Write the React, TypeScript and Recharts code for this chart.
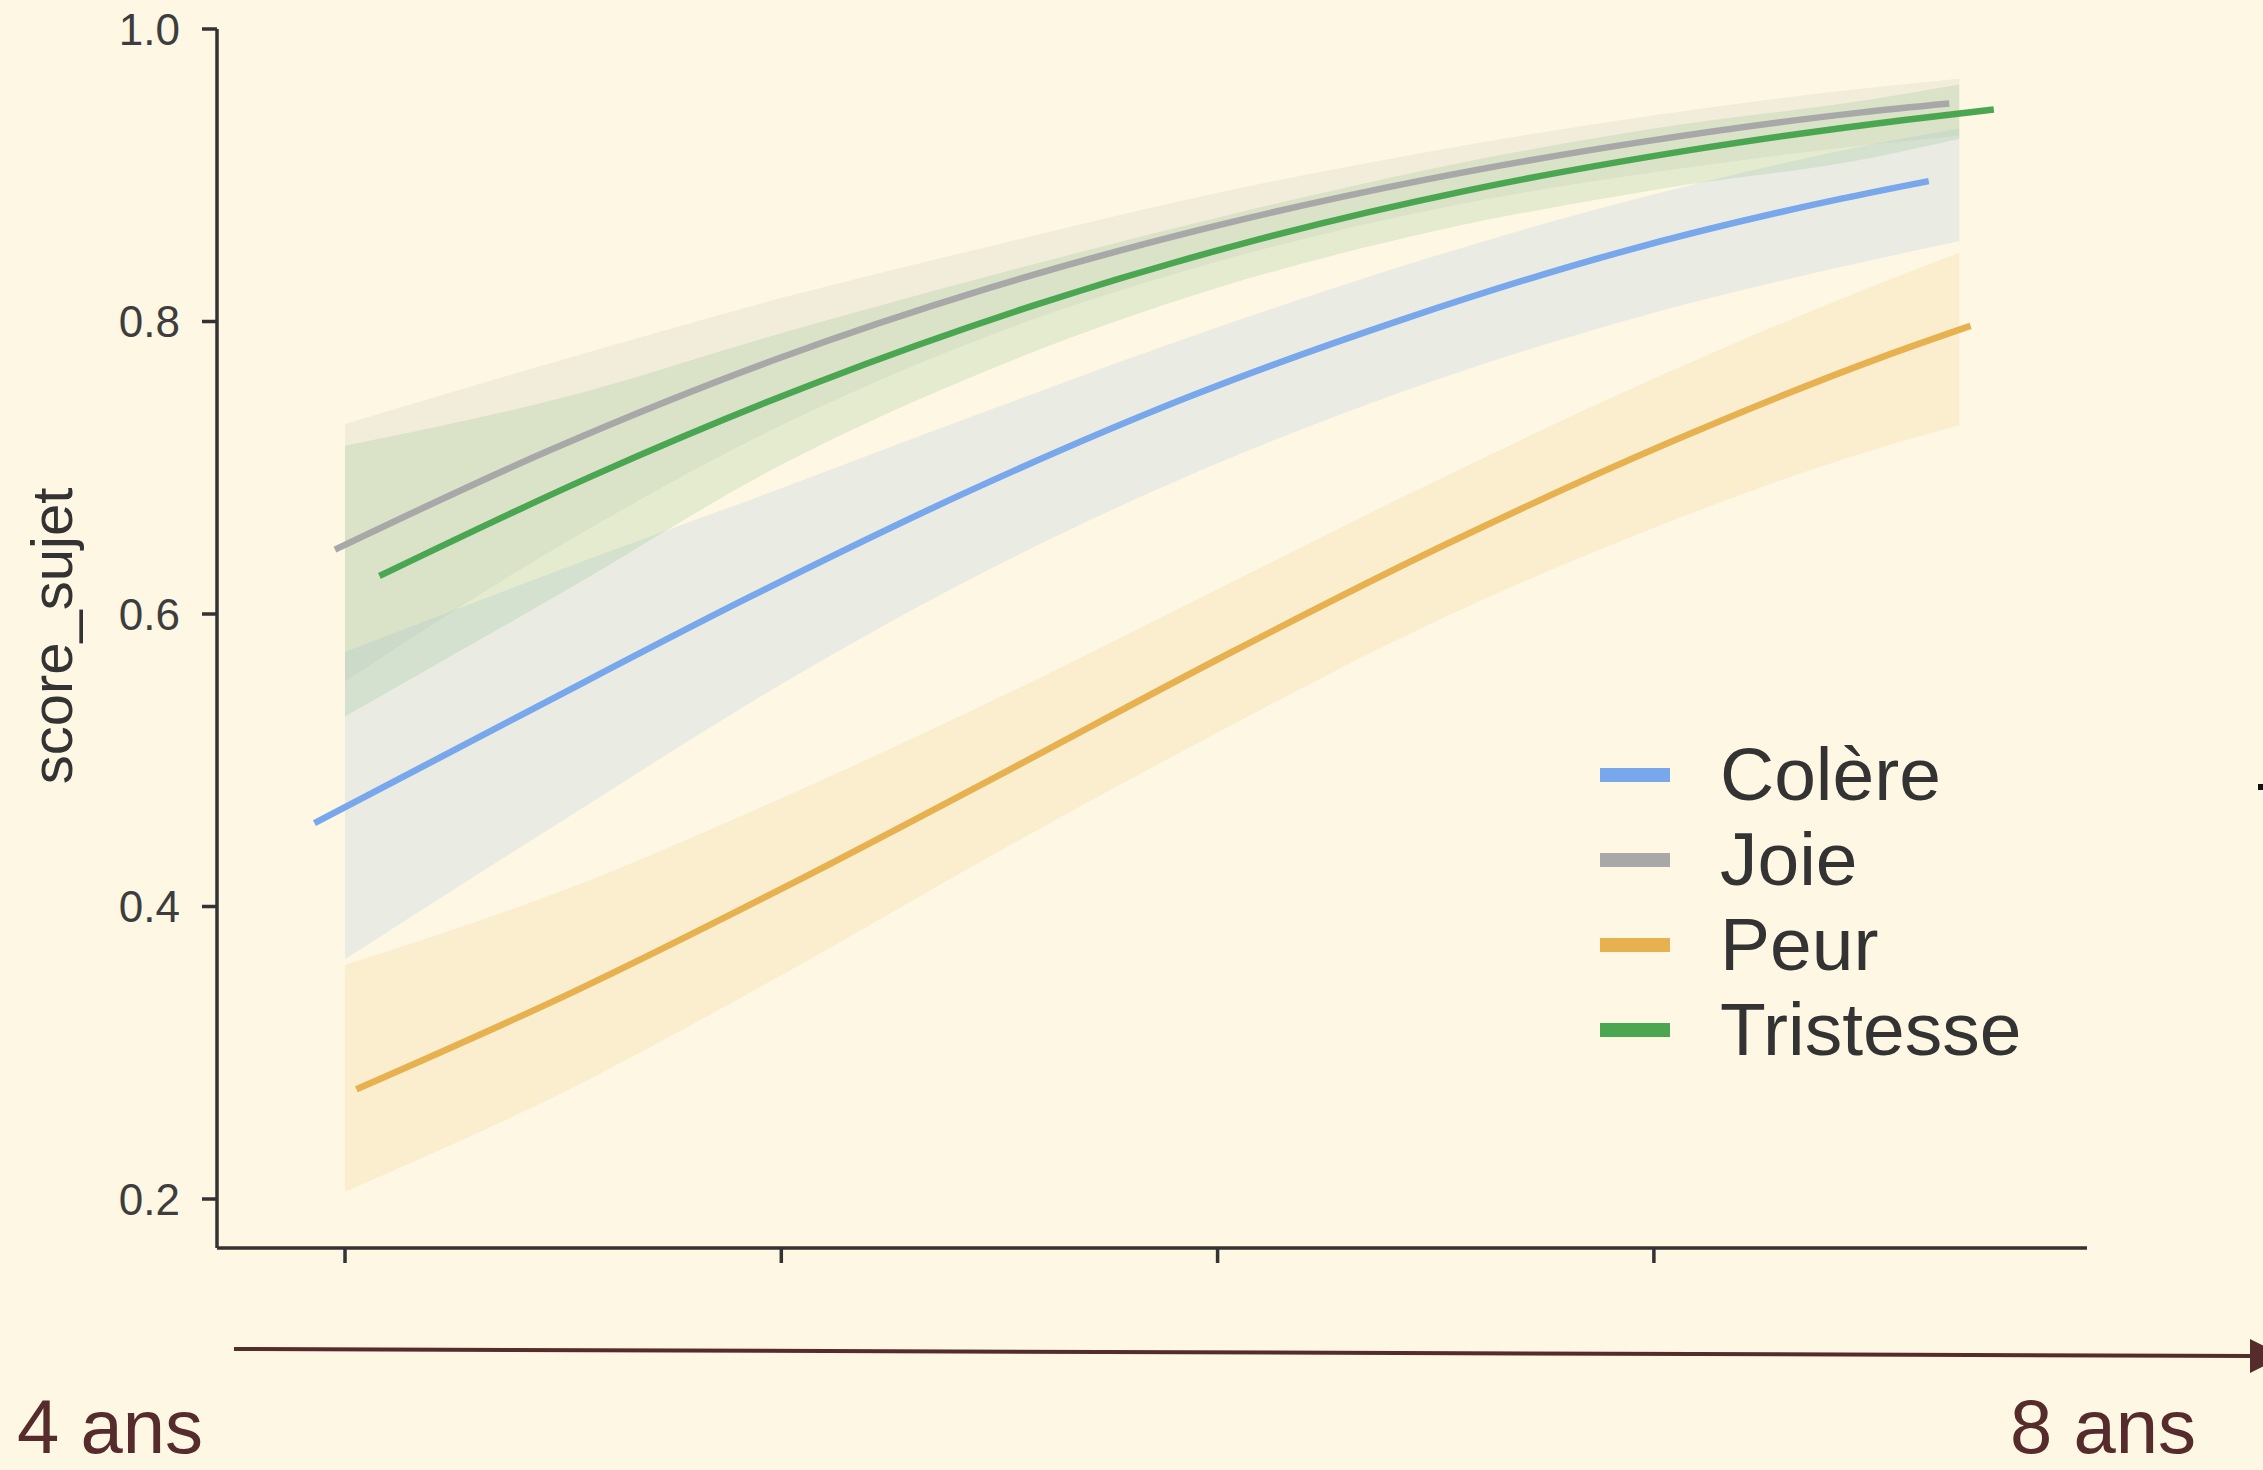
import React from 'react';
import { ComposedChart, Line, Area, XAxis, YAxis, Legend } from 'recharts';

// age (years) at which the fitted curves were evaluated
const ages = [4.0, 4.5, 5.0, 5.5, 6.0, 6.5, 7.0, 7.5, 7.7];
const xTicks = [4, 5, 6, 7];
const yTicks = [0.2, 0.4, 0.6, 0.8, 1.0];

// fitted score per emotion
const colere = [0.457, 0.535, 0.612, 0.684, 0.748, 0.802, 0.848, 0.884, 0.896];
const joie = [0.644, 0.713, 0.773, 0.823, 0.864, 0.897, 0.923, 0.943, 0.949];
const peur = [0.275, 0.342, 0.416, 0.494, 0.573, 0.648, 0.716, 0.776, 0.797];
const tristesse = [0.626, 0.696, 0.758, 0.811, 0.855, 0.890, 0.917, 0.938, 0.945];

// confidence bands
const colereLow = [0.364, 0.459, 0.552, 0.634, 0.703, 0.760, 0.806, 0.842, 0.855];
const colereHigh = [0.574, 0.631, 0.686, 0.742, 0.796, 0.845, 0.887, 0.921, 0.932];
const joieLow = [0.554, 0.648, 0.729, 0.793, 0.841, 0.877, 0.902, 0.921, 0.927];
const joieHigh = [0.730, 0.774, 0.816, 0.853, 0.888, 0.917, 0.941, 0.960, 0.966];
const peurLow = [0.205, 0.273, 0.353, 0.438, 0.519, 0.595, 0.659, 0.712, 0.729];
const peurHigh = [0.360, 0.411, 0.474, 0.543, 0.617, 0.691, 0.761, 0.824, 0.847];
const tristesseLow = [0.530, 0.615, 0.702, 0.770, 0.823, 0.862, 0.890, 0.912, 0.925];
const tristesseHigh = [0.715, 0.748, 0.792, 0.833, 0.871, 0.905, 0.932, 0.952, 0.962];

const BG = '#fdf7e3';
const FONT = '"Liberation Sans", Arial, sans-serif';
const INK = '#333333';
const MAROON = '#552b2c';

const series = [
  { name: 'Colère', fit: colere, low: colereLow, high: colereHigh, color: '#78a7ec', band: 0.14, dodge: -0.07 },
  { name: 'Joie', fit: joie, low: joieLow, high: joieHigh, color: '#a8a8a8', band: 0.12, dodge: -0.023 },
  { name: 'Peur', fit: peur, low: peurLow, high: peurHigh, color: '#e7b14f', band: 0.13, dodge: 0.026 },
  { name: 'Tristesse', fit: tristesse, low: tristesseLow, high: tristesseHigh, color: '#4ba652', band: 0.14, dodge: 0.079 },
];

const lineData = (s: typeof series[number]) => ages.map((a, i) => ({ age: a + s.dodge, score: s.fit[i] }));
const bandData = (s: typeof series[number]) => ages.map((a, i) => ({ age: a, band: [s.low[i], s.high[i]] }));

const renderLegend = (props: any) => {
  const payload = (props.payload || []).filter((p: any) => p.type !== 'none');
  const order = series.map((s) => s.name);
  payload.sort((a: any, b: any) => order.indexOf(a.value) - order.indexOf(b.value));
  return (
    <div style={{ fontFamily: FONT }}>
      {payload.map((p: any) => (
        <div key={p.value} style={{ display: 'flex', alignItems: 'center', height: 85 }}>
          <div style={{ width: 70, height: 14, background: p.color, marginLeft: 10, marginRight: 50 }} />
          <span style={{ fontSize: 75, color: INK, lineHeight: '85px' }}>{p.value}</span>
        </div>
      ))}
    </div>
  );
};

// x ticks carry no labels, only the tick marks
const NoLabel = () => <g />;

export default function App() {
  return (
    <div style={{ position: 'absolute', left: 0, top: 0, width: 2263, height: 1470, background: BG, overflow: 'hidden' }}>
      <ComposedChart
        width={2263}
        height={1470}
        margin={{ top: 29, right: 176, bottom: 202, left: 0 }}
      >
        <XAxis
          type="number"
          dataKey="age"
          domain={[3.7066, 7.9927]}
          ticks={xTicks}
          allowDataOverflow
          tick={NoLabel}
          tickSize={15}
          height={20}
          axisLine={{ stroke: INK, strokeWidth: 3.5 }}
          tickLine={{ stroke: INK, strokeWidth: 3.5 }}
        />
        <YAxis
          type="number"
          domain={[0.1665, 1.0]}
          ticks={yTicks}
          allowDataOverflow
          width={217}
          tickSize={15}
          tickMargin={22}
          tickFormatter={(v: number) => v.toFixed(1)}
          tick={{ fill: '#3d3d3d', fontSize: 44, fontFamily: FONT }}
          axisLine={{ stroke: INK, strokeWidth: 3.5 }}
          tickLine={{ stroke: INK, strokeWidth: 3.5 }}
        />
        {series.map((s) => (
          <Area
            key={'band-' + s.name}
            data={bandData(s)}
            dataKey="band"
            type="monotone"
            stroke="none"
            fill={s.color}
            fillOpacity={s.band}
            legendType="none"
            isAnimationActive={false}
          />
        ))}
        {series.map((s) => (
          <Line
            key={s.name}
            data={lineData(s)}
            dataKey="score"
            name={s.name}
            type="monotone"
            stroke={s.color}
            strokeWidth={6.5}
            dot={false}
            activeDot={false}
            isAnimationActive={false}
          />
        ))}
        <Legend
          layout="vertical"
          align="center"
          verticalAlign="middle"
          content={renderLegend}
          wrapperStyle={{ left: 1590, top: 732, width: 'auto' }}
        />
      </ComposedChart>
      <svg width={2263} height={1470} style={{ position: 'absolute', left: 0, top: 0, pointerEvents: 'none' }}>
        <text
          x={72}
          y={636}
          transform="rotate(-90, 72, 636)"
          textAnchor="middle"
          fontSize={58}
          fontFamily={FONT}
          fill={INK}
        >
          score_sujet
        </text>
        <line x1={234} y1={1349} x2={2252} y2={1356} stroke={MAROON} strokeWidth={4} />
        <polygon points="2250,1339 2250,1373 2284,1356" fill={MAROON} />
        <text x={17} y={1453} fontSize={76} fontFamily={FONT} fill={MAROON}>4 ans</text>
        <text x={2010} y={1453} fontSize={76} fontFamily={FONT} fill={MAROON}>8 ans</text>
        <rect x={2258} y={784} width={5} height={6} fill="#111" />
      </svg>
    </div>
  );
}
